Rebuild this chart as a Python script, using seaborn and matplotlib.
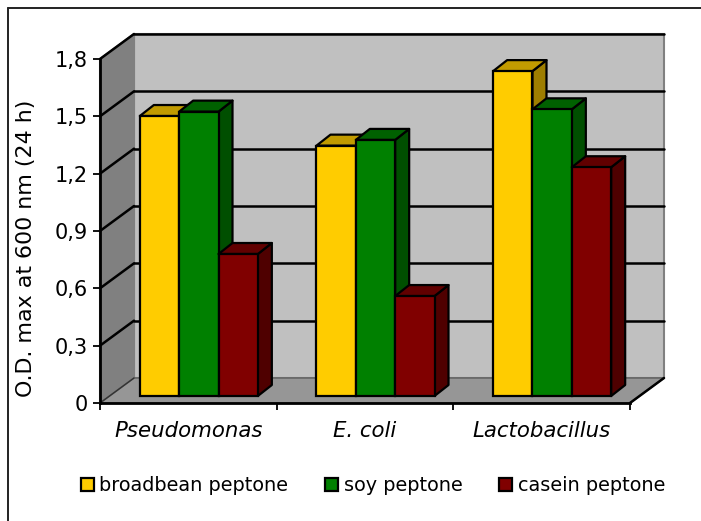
import matplotlib
matplotlib.use("Agg")
import matplotlib.pyplot as plt
import matplotlib.colors as mcolors
from matplotlib.lines import Line2D
from matplotlib.patches import Polygon, Rectangle
from matplotlib.transforms import Affine2D
import pandas as pd
import seaborn as sns

# values
organisms = ["Pseudomonas", "E. coli", "Lactobacillus"]
broadbean = [1.465, 1.31, 1.70]
soy = [1.488, 1.34, 1.50]
casein = [0.743, 0.523, 1.197]
peptones = ["broadbean peptone", "soy peptone", "casein peptone"]
bar_colors = ["#ffcc00", "#008000", "#800000"]
y_ticks = [0, 0.3, 0.6, 0.9, 1.2, 1.5, 1.8]
y_labels = ["0", "0,3", "0,6", "0,9", "1,2", "1,5", "1,8"]

df = pd.DataFrame({
    "organism": organisms * 3,
    "peptone": [p for p in peptones for _ in organisms],
    "od": broadbean + soy + casein,
})

sns.set_theme(style="white")
plt.rcParams["font.family"] = "DejaVu Sans"

fig = plt.figure(figsize=(7.01, 5.21), dpi=100)
ax = fig.add_axes([100 / 701, 118 / 521, 530 / 701, 344 / 521])

sns.barplot(data=df, x="organism", y="od", hue="peptone", palette=bar_colors,
            saturation=1, width=0.668, gap=0, edgecolor="black", linewidth=1.6, ax=ax)
ax.set_xlim(-0.5, 2.5)
ax.set_ylim(0, 1.8)


def shifted(dx, dy):
    # data coords moved by some pixels, this is what fakes the depth
    return ax.transData + Affine2D().translate(dx, dy)


# fake 3d box behind the bars
wall_dx, wall_dy = 34, 25
x0, x1 = ax.get_xlim()
y0, y1 = ax.get_ylim()
back = shifted(wall_dx, wall_dy)

ax.add_patch(Rectangle((x0, y0), x1 - x0, y1 - y0, transform=back, fc="#c0c0c0",
                       ec="#808080", lw=1.5, zorder=0.1, clip_on=False))


def depth_poly(p1, p2, color, edge, lw=1.5, z=0.2):
    # quad between a front edge and the same edge on the back wall
    a = ax.transData.transform([p1, p2])
    pts = [a[0], a[1], a[1] + [wall_dx, wall_dy], a[0] + [wall_dx, wall_dy]]
    ax.add_patch(Polygon(pts, closed=True, transform=None, fc=color, ec=edge, lw=lw,
                         zorder=z, clip_on=False))


depth_poly((x0, y0), (x0, y1), "#808080", "#808080")
depth_poly((x0, y0), (x1, y0), "#969696", "#666666", lw=1.2)

for t in y_ticks[1:]:
    a = ax.transData.transform((x0, t))
    ax.plot([x0, x1], [t, t], transform=back, color="black", lw=1.8, zorder=0.3, clip_on=False)
    ax.plot([a[0], a[0] + wall_dx], [a[1], a[1] + wall_dy], transform=None, color="black",
            lw=1.8, zorder=0.3, clip_on=False)

a = ax.transData.transform((x1, y0))
ax.plot([a[0], a[0] + wall_dx], [a[1], a[1] + wall_dy], transform=None, color="black",
        lw=1.8, zorder=0.4, clip_on=False)
a = ax.transData.transform((x0, y0))
ax.plot([a[0], a[0] + wall_dx], [a[1], a[1] + wall_dy], transform=None, color="#333333",
        lw=1, zorder=0.4, clip_on=False)

# bars stand a bit inside the floor, with their own side and top faces
bar_dx, bar_dy = 10.5, 7
depth_dx, depth_dy = 14, 11
bars = sorted([p for p in ax.patches if isinstance(p, Rectangle) and p.get_zorder() != 0.1
               and p.get_height() > 0], key=lambda p: p.get_x())
bar_shift = Affine2D().translate(bar_dx, bar_dy)
for i, bar in enumerate(bars):
    base = mcolors.to_rgb(bar.get_facecolor())
    box = bar.get_bbox()
    ll = ax.transData.transform((box.x0, box.y0)) + [bar_dx, bar_dy]
    ur = ax.transData.transform((box.x1, box.y1)) + [bar_dx, bar_dy]
    lr = [ur[0], ll[1]]
    ul = [ll[0], ur[1]]
    d = [depth_dx, depth_dy]
    side = [lr, ur, ur + d, [lr[0] + d[0], lr[1] + d[1]]]
    top = [ul, ur, ur + d, [ul[0] + d[0], ul[1] + d[1]]]
    z = 2 + i
    ax.add_patch(Polygon(side, transform=None, fc=[c * 0.62 for c in base], ec="black",
                         lw=1.6, zorder=z, clip_on=False, joinstyle="round"))
    ax.add_patch(Polygon(top, transform=None, fc=[c * 0.76 for c in base], ec="black",
                         lw=1.6, zorder=z, clip_on=False, joinstyle="round"))
    bar.set_transform(ax.transData + bar_shift)
    bar.set_zorder(z + 0.5)
    bar.set_clip_on(False)

# ticks: category ticks sit between the groups
ax.set_yticks(y_ticks, y_labels, fontsize=15, color="black")
ax.set_xticks([-0.5, 0.5, 1.5, 2.5], [])
ax.set_xticks([0, 1, 2], organisms, minor=True, fontsize=15.3, style="italic", color="black")
ax.tick_params(axis="x", which="major", length=5, width=1.3, color="black", bottom=True)
ax.tick_params(axis="x", which="minor", length=0, pad=13)
ax.tick_params(axis="y", length=5, width=1.3, color="black", left=True, pad=4)
ax.set_xlabel("")
ax.set_ylabel("O.D. max at 600 nm (24 h)", fontsize=15.9, color="black", y=0.449, labelpad=13)
ax.patch.set_visible(False)
sns.despine(ax=ax)
for s in ["left", "bottom"]:
    ax.spines[s].set_color("black")
    ax.spines[s].set_linewidth(2)
    ax.spines[s].set_zorder(1)

sns.move_legend(ax, "center", bbox_to_anchor=(0.515, -0.241), ncol=3, frameon=False,
                title=None, fontsize=13.9, labelcolor="black", handlelength=0.66,
                handleheight=0.66, handletextpad=0.3, columnspacing=1.9)

# frame of the chart, only top and left stay inside the crop
fig.add_artist(Line2D([8 / 701, 1], [513 / 521, 513 / 521], color="#222222", lw=1.4))
fig.add_artist(Line2D([8 / 701, 8 / 701], [0, 513 / 521], color="#222222", lw=1.4))

fig.savefig("out.png", dpi=100)
